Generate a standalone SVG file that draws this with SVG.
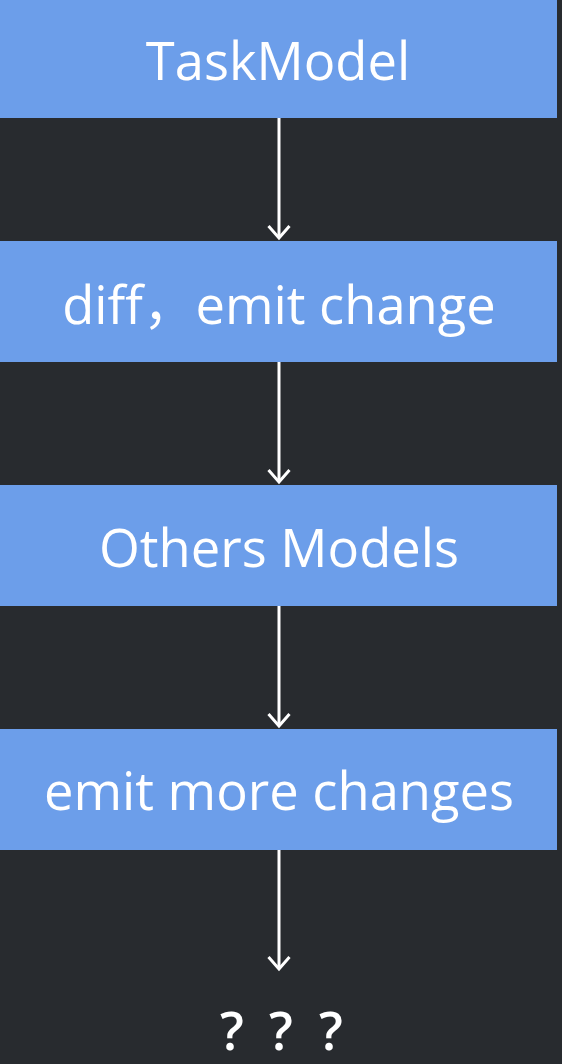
<svg xmlns="http://www.w3.org/2000/svg" width="562" height="1064" viewBox="0 0 562 1064">
<style>
.box{fill:#6c9eea;}
.lbl{font-family:"Open Sans","Noto Sans CJK SC",sans-serif;font-size:52.5px;fill:#ffffff;text-anchor:middle;}
.q{font-weight:600;}
.conn{stroke:#ffffff;stroke-width:3;fill:none;}
</style>
<defs>
<marker id="arr" markerWidth="20" markerHeight="26" refX="14" refY="13" orient="auto" markerUnits="userSpaceOnUse">
<path d="M2,2.5 L14,13 L2,23.5" fill="none" stroke="#ffffff" stroke-width="3"/>
</marker>
</defs>
<rect width="562" height="1064" fill="#282b2f"/>
<g id="n1"><rect class="box" x="0" y="0" width="557" height="118"/><text class="lbl" x="278" y="80">TaskModel</text></g>
<g id="n2"><rect class="box" x="0" y="241" width="557" height="121"/><text class="lbl" x="279" y="324">diff，emit change</text></g>
<g id="n3"><rect class="box" x="0" y="485" width="557" height="121"/><text class="lbl" x="279" y="567">Others Models</text></g>
<g id="n4"><rect class="box" x="0" y="729" width="557" height="121"/><text class="lbl" x="279" y="810">emit more changes</text></g>
<g id="n5"><text class="lbl q" y="1050"><tspan x="232">?</tspan><tspan x="281">?</tspan><tspan x="331">?</tspan></text></g>
<g id="connectors">
<line class="conn" x1="279" y1="118" x2="279" y2="238" marker-end="url(#arr)"/>
<line class="conn" x1="279" y1="362" x2="279" y2="482" marker-end="url(#arr)"/>
<line class="conn" x1="279" y1="606" x2="279" y2="726" marker-end="url(#arr)"/>
<line class="conn" x1="279" y1="850" x2="279" y2="969" marker-end="url(#arr)"/>
</g>
</svg>
